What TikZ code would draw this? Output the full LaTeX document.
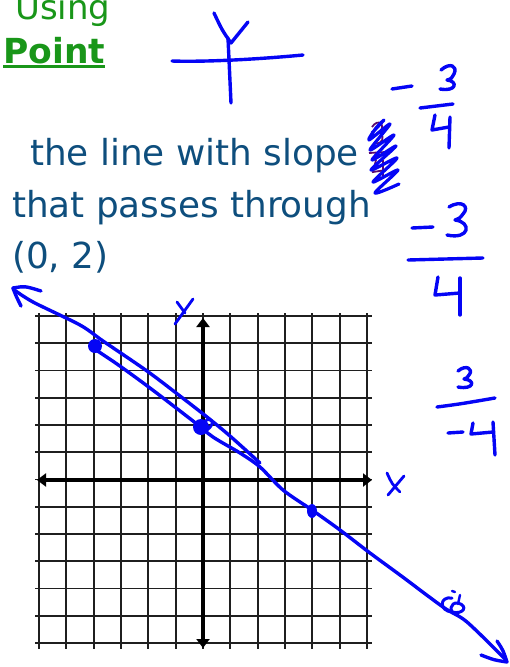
\documentclass[tikz,border=0pt]{standalone}
\usepackage{fontspec}
\setmainfont{DejaVu Sans}
\usetikzlibrary{arrows.meta}
\definecolor{hgreen}{RGB}{25,150,25}
\definecolor{tblue}{RGB}{14,78,125}
\definecolor{pen}{RGB}{5,5,245}
\definecolor{ppurple}{RGB}{90,10,110}
\tikzset{
  gridln/.style={line width=1.8pt, color=black!88},
  axisln/.style={line width=3.8pt, color=black, {Triangle[length=9pt,width=13pt]}-{Triangle[length=9pt,width=13pt]}},
  ink/.style={pen, line width=3.4pt, line cap=round, line join=round},
  txt/.style={inner sep=0pt, anchor=base west, text=tblue, font=\fontsize{35.8}{40}\selectfont},
}
\begin{document}
\begin{tikzpicture}[x=1pt,y=-1pt]
\useasboundingbox (0,0) rectangle (509,667);
% headings
\node[inner sep=0pt, anchor=base west, text=hgreen, font=\fontsize{34}{40}\selectfont] (using) at (15,19) {Using};
\node[inner sep=0pt, anchor=base west, text=hgreen, font=\fontsize{34.5}{40}\selectfont\bfseries] (point) at (3,63) {Point};
\draw[hgreen, line width=2.8pt] ([yshift=-3.5pt]point.base west) -- ([yshift=-3.5pt]point.base east);
% problem text
\node[txt] (l1) at (30,165) {the line with slope};
\node[txt] (l2) at (12,217) {that passes through};
\node[txt] (l3) at (12,268) {(0, 2)};
% grid
\foreach \i in {0,...,12} {
  \draw[gridln] (39+27.33*\i,313) -- (39+27.33*\i,649);
  \draw[gridln] (35,316+27.25*\i) -- (372,316+27.25*\i);
}
\draw[axisln] (37,480) -- (372,480);
\draw[axisln] (203,318) -- (203,648);
% axis labels
\draw[ink, line width=2.8pt] (177,302) -- (185,313);
\draw[ink, line width=2.8pt] (193,299) -- (175,324);
\draw[ink, line width=2.8pt] (387,473) .. controls (392,484) .. (400,492);
\draw[ink, line width=2.8pt] (404,476) -- (388,495);
% hand-drawn line
\draw[ink] plot[smooth] coordinates {(13,289) (33,302) (80,325) (103,341) (147,371) (180,396) (207,417) (230,436) (260,463)};
\draw[ink] plot[smooth] coordinates {(90,346) (117,364) (150,388) (193,421) (213,437) (240,453) (260,467) (283,490) (312,510) (340,530) (370,553) (400,575) (443,607) (467,622) (506,660)};
\draw[ink] (41,291) .. controls (25,286) .. (13,288) .. controls (16,296) .. (21,306);
\draw[ink] (497,641) .. controls (503,650) .. (507,662) .. controls (494,660) .. (481,655);
% points
\fill[pen] (95,346) circle (7);
\fill[pen] (201,427) circle (8);
\draw[ink, line width=2.8pt] (204,422) .. controls (212,415) and (216,424) .. (207,430);
\fill[pen] (312,511) ellipse (5 and 7);
\draw[ink, line width=3pt] (452,598) .. controls (439,596) and (439,611) .. (452,612) .. controls (463,615) and (469,606) .. (458,603) .. controls (450,602) and (448,612) .. (457,615);
\draw[ink, line width=2.4pt] (452,591) -- (455,592);
\draw[ink, line width=2.4pt] (460,595) -- (458,604);
% top sketch axes
\draw[ink] (228,38) -- (231,103);
\draw[ink] (214,13) .. controls (222,30) .. (231,43) .. controls (239,32) .. (248,22);
\draw[ink] (172,61) .. controls (200,62) and (250,60) .. (303,55);
% fraction 1
\draw[ink] (392,89) -- (412,86);
\draw[ink] (441,70) .. controls (450,62) and (458,66) .. (454,74) .. controls (451,79) .. (447,80) .. controls (458,81) and (457,92) .. (440,89);
\draw[ink] (420,108) -- (453,104);
\draw[ink] (435,115) -- (432,130) -- (449,127);
\draw[ink] (450,117) -- (449,148);
% scribble
\draw[ppurple, line width=1.8pt] (372,127) .. controls (378,118) and (386,124) .. (380,133) .. controls (385,137) and (383,145) .. (374,143);
\draw[ppurple, line width=1.8pt] (369,153) -- (386,152);
\draw[ppurple, line width=1.8pt] (376,160) -- (373,172) -- (386,170);
\draw[ppurple, line width=1.8pt] (383,160) -- (383,178);
\draw[ink, line width=3.2pt] plot[smooth] coordinates {(372,133) (384,120) (376,128) (369,140) (390,124) (370,150) (394,135) (372,160) (396,146) (371,170) (397,158) (373,182) (398,170) (375,193) (399,184)};
% fraction 2
\draw[ink] (412,228) -- (433,227);
\draw[ink] (449,207) .. controls (462,199) and (470,207) .. (463,214) .. controls (460,218) .. (455,220) .. controls (472,222) and (470,240) .. (447,235);
\draw[ink] (408,260) -- (483,258);
\draw[ink] (438,277) -- (435,295) -- (460,293);
\draw[ink] (460,278) -- (460,315);
% fraction 3
\draw[ink] (458,371) .. controls (466,364) and (474,369) .. (469,375) .. controls (467,378) .. (464,379) .. controls (476,380) and (474,390) .. (458,387);
\draw[ink] (437,407) .. controls (460,404) .. (495,398);
\draw[ink] (448,433) -- (463,432);
\draw[ink] (473,423) -- (471,434) -- (493,432);
\draw[ink] (493,422) -- (495,455);
\end{tikzpicture}
\end{document}
